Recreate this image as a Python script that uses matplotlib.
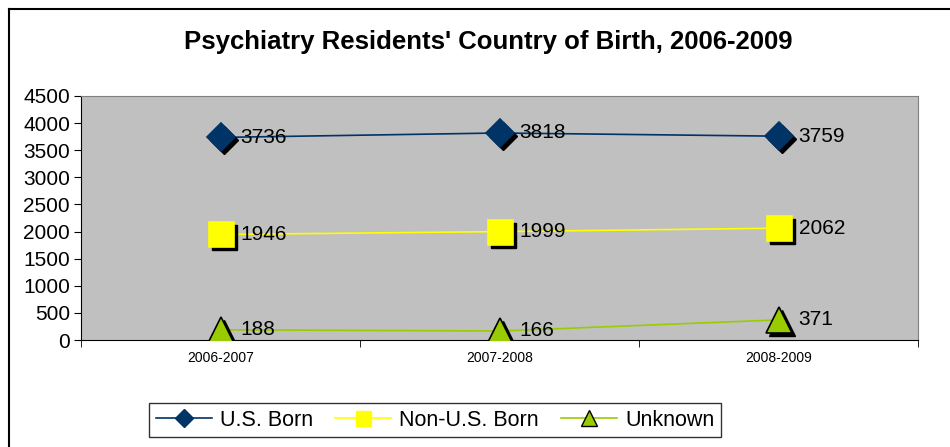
import matplotlib.pyplot as plt
import matplotlib.transforms as mtransforms
from matplotlib.lines import Line2D

plt.rcParams['font.family'] = ['Liberation Sans', 'DejaVu Sans']

years = ["2006-2007", "2007-2008", "2008-2009"]
us_born = [3736, 3818, 3759]
non_us_born = [1946, 1999, 2062]
unknown = [188, 166, 371]

series = [
    ("U.S. Born", us_born, "#003366", "D", 14.5, "#003366"),
    ("Non-U.S. Born", non_us_born, "#FFFF00", "s", 18, "#FFFF00"),
    ("Unknown", unknown, "#99CC00", "^", 19, "#000000"),
]

fig = plt.figure(figsize=(9.5, 4.47), dpi=100)
ax = fig.add_axes([81 / 950, 107 / 447, 837 / 950, 244 / 447])
ax.set_facecolor("#C0C0C0")

# outer chart frame (top and left edges visible)
fig.add_artist(Line2D([9 / 950, 9 / 950], [0, 1 - 9 / 447], transform=fig.transFigure,
                      color="black", lw=1.5))
fig.add_artist(Line2D([9 / 950, 1], [1 - 9 / 447, 1 - 9 / 447], transform=fig.transFigure,
                      color="black", lw=1.5))

x = list(range(len(years)))
shadow = mtransforms.offset_copy(ax.transData, fig=fig, x=3, y=-3, units="dots")
label_tr = mtransforms.offset_copy(ax.transData, fig=fig, x=20, y=0, units="dots")

handles = []
for name, vals, color, marker, ms, edge in series:
    ax.plot(x, vals, color=color, lw=1.2, zorder=2)
    ax.plot(x, vals, linestyle="none", marker=marker, markersize=ms,
            color="black", transform=shadow, zorder=3)
    ax.plot(x, vals, linestyle="none", marker=marker, markersize=ms,
            markerfacecolor=color, markeredgecolor=edge, markeredgewidth=1.2, zorder=4)
    for xi, v in zip(x, vals):
        ax.text(xi, v, str(v), transform=label_tr, ha="left", va="center",
                fontsize=15, zorder=5)
    handles.append(Line2D([], [], color=color, lw=1.2, marker=marker,
                          markersize=ms * 0.6, markerfacecolor=color,
                          markeredgecolor=edge, label=name))

ax.set_xlim(-0.5, 2.5)
ax.set_ylim(0, 4500)
ax.set_yticks(range(0, 4501, 500))
ax.tick_params(axis="y", labelsize=15, length=5, direction="out", pad=3)
ax.set_xticks(x)
ax.set_xticklabels(years, fontsize=10)
ax.tick_params(axis="x", length=0, pad=8)
ax.set_xticks([-0.5, 0.5, 1.5, 2.5], minor=True)
ax.tick_params(axis="x", which="minor", length=5, direction="out")

for side in ["top", "right"]:
    ax.spines[side].set_color("#808080")
for side in ["left", "bottom"]:
    ax.spines[side].set_color("black")

fig.text(488 / 950, 1 - 42 / 447, "Psychiatry Residents' Country of Birth, 2006-2009",
         ha="center", va="center", fontsize=18.5, fontweight="bold")

leg = fig.legend(handles=handles, loc="center", bbox_to_anchor=(435 / 950, 27 / 447),
                 ncol=3, fontsize=15.5, frameon=True, fancybox=False, edgecolor="black",
                 handlelength=2.6, columnspacing=1.0, handletextpad=0.4, borderpad=0.3)
leg.get_frame().set_linewidth(1.0)

fig.savefig("out.png", dpi=100)
